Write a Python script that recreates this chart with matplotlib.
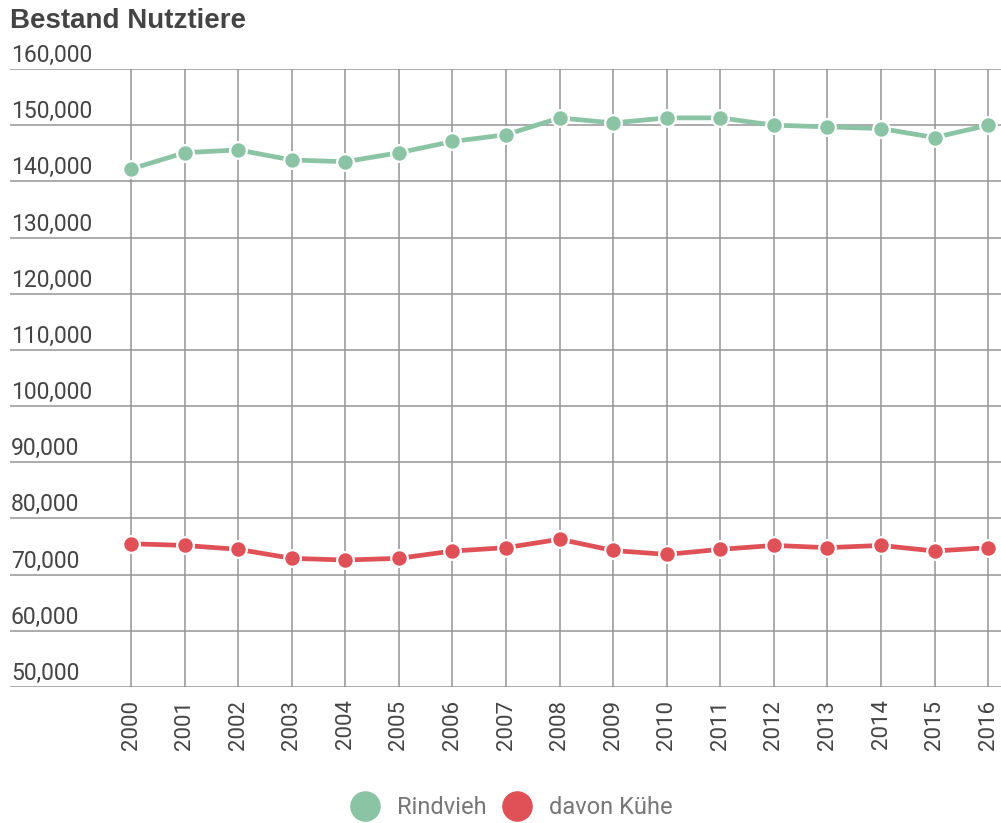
import numpy as np
import matplotlib
matplotlib.use("Agg")
from matplotlib import pyplot as plt
from matplotlib.lines import Line2D

# Daten
jahre = [2000, 2001, 2002, 2003, 2004, 2005, 2006, 2007, 2008,
         2009, 2010, 2011, 2012, 2013, 2014, 2015, 2016]
rindvieh = [142200, 145100, 145600, 143800, 143500, 145100, 147100, 148300, 151300,
            150400, 151300, 151300, 150000, 149700, 149400, 147800, 150000]
kuehe = [75500, 75200, 74500, 72900, 72600, 72900, 74200, 74800, 76300,
         74300, 73600, 74500, 75200, 74800, 75200, 74200, 74800]
y_ticks = [50000, 60000, 70000, 80000, 90000, 100000, 110000,
           120000, 130000, 140000, 150000, 160000]

gruen = "#8bc4a5"
rot = "#df5157"
text_col = "#444444"

W, H = 1001, 823
fig = plt.figure(figsize=(W / 100, H / 100), dpi=100)
# Achsenbereich in Pixeln: x 10..1001, y 69..687
ax = fig.add_axes([10 / W, 1 - 687 / H, 991 / W, (687 - 69) / H])

ax.set_xlim(1997.74, 2016.24)
ax.set_ylim(50000, 160000)

for spine in ax.spines.values():
    spine.set_visible(False)

# Gitter: horizontal über volle Breite, vertikal nur an den Jahren
for v in y_ticks:
    ax.axhline(v, color="#949494", lw=1.1, zorder=1)
for j in jahre:
    ax.axvline(j, color="#949494", lw=1.1, zorder=1)

ax.plot(jahre, rindvieh, color=gruen, lw=3.4, marker="o", ms=12,
        mfc=gruen, mec="white", mew=1.6, zorder=3, clip_on=False)
ax.plot(jahre, kuehe, color=rot, lw=3.4, marker="o", ms=12,
        mfc=rot, mec="white", mew=1.6, zorder=3, clip_on=False)

# y-Beschriftungen oberhalb der Gitterlinien, linksbündig
ax.set_yticks([])
for v in y_ticks:
    ax.annotate(f"{v:,}", xy=(0, v), xycoords=("axes fraction", "data"),
                xytext=(1, 2), textcoords="offset pixels",
                ha="left", va="bottom", fontsize=16.5, color=text_col,
                family="Roboto")

ax.set_xticks(jahre)
ax.set_xticklabels([str(j) for j in jahre], rotation=90, fontsize=16,
                   color=text_col, family="Roboto")
ax.tick_params(axis="x", length=0, pad=9)

fig.text(10 / W, 1 - 8 / H, "Bestand Nutztiere", ha="left", va="top",
         fontsize=20, fontweight="bold", color=text_col, family="Liberation Sans")

handles = [Line2D([], [], ls="", marker="o", ms=21, mfc=gruen, mec=gruen),
           Line2D([], [], ls="", marker="o", ms=21, mfc=rot, mec=rot)]
leg = fig.legend(handles, ["Rindvieh", "davon Kühe"], loc="center",
                 bbox_to_anchor=(510 / W, 1 - 808 / H), ncol=2, frameon=False,
                 handletextpad=0.6, columnspacing=0.56, handlelength=1.5,
                 borderpad=0, prop={"family": "Roboto", "size": 17})
for t in leg.get_texts():
    t.set_color("#777777")

fig.savefig("out.png", dpi=100)
